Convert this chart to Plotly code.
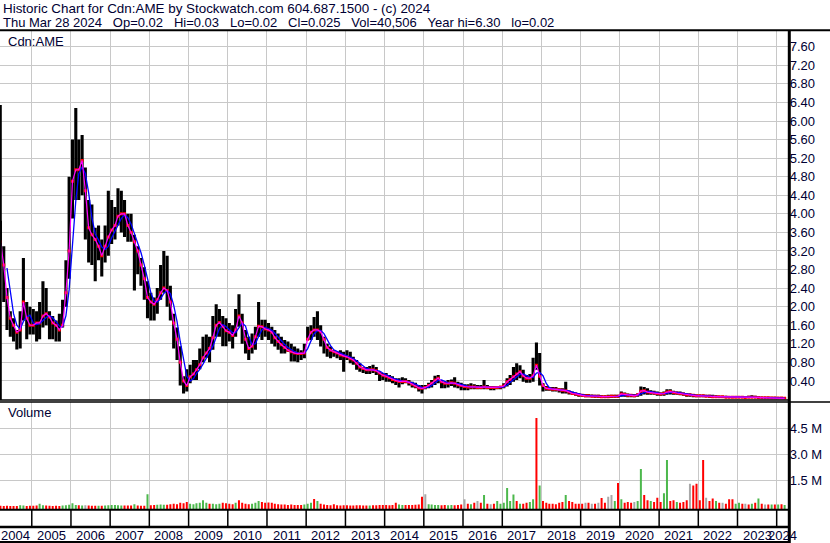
import pandas as pd
import plotly.graph_objects as go

W, H = 830, 543

# ---------------- data (monthly, Mar 2004 .. Mar 2024) ----------------
high = [
    # 2004 (Mar-Dec)
    3.85, 3.3, 2.4, 1.9, 1.75, 1.5, 1.9, 3.05, 2.1, 2.0,
    # 2005
    1.95, 1.9, 2.1, 2.55, 2.4, 1.9, 1.8, 1.7, 1.85, 2.15, 3.0, 4.8,
    # 2006
    5.6, 6.28, 5.6, 5.7, 5.0, 4.3, 4.2, 3.7, 3.75, 3.45, 3.75, 4.5,
    # 2007
    4.3, 4.15, 4.55, 4.5, 4.3, 4.0, 4.0, 3.55, 3.3, 3.05, 2.85, 2.55,
    # 2008
    2.3, 2.2, 2.4, 2.9, 3.2, 3.1, 2.45, 1.85, 1.55, 1.15, 0.5, 0.65,
    # 2009
    0.75, 0.85, 0.85, 1.1, 1.35, 1.4, 1.35, 1.8, 2.05, 1.95, 1.8, 1.75,
    # 2010
    1.65, 1.6, 1.95, 2.27, 1.85, 1.5, 1.35, 1.42, 1.57, 2.1, 1.72, 1.72,
    # 2011
    1.65, 1.57, 1.5, 1.42, 1.35, 1.28, 1.25, 1.2, 1.14, 1.1, 1.06, 1.2,
    # 2012
    1.57, 1.6, 1.78, 1.9, 1.6, 1.35, 1.2, 1.14, 1.06, 1.03, 1.06, 1.03,
    # 2013
    1.06, 1.03, 0.92, 0.85, 0.78, 0.7, 0.7, 0.72, 0.75, 0.7, 0.6, 0.57,
    # 2014
    0.57, 0.53, 0.5, 0.46, 0.46, 0.48, 0.46, 0.42, 0.38, 0.36, 0.31, 0.31,
    # 2015
    0.31, 0.36, 0.42, 0.51, 0.53, 0.42, 0.38, 0.42, 0.43, 0.48, 0.38, 0.36,
    # 2016
    0.33, 0.33, 0.35, 0.33, 0.31, 0.31, 0.42, 0.31, 0.29, 0.29, 0.29, 0.29,
    # 2017
    0.35, 0.46, 0.53, 0.7, 0.78, 0.74, 0.64, 0.53, 0.55, 0.9, 1.23, 1.0,
    # 2018
    0.35, 0.29, 0.27, 0.27, 0.27, 0.24, 0.24, 0.38, 0.19, 0.17, 0.15, 0.13,
    # 2019
    0.12, 0.12, 0.12, 0.11, 0.1, 0.1, 0.09, 0.09, 0.1, 0.1, 0.1, 0.1,
    # 2020
    0.17, 0.15, 0.13, 0.12, 0.12, 0.13, 0.28, 0.27, 0.24, 0.2, 0.19, 0.17,
    # 2021
    0.15, 0.17, 0.22, 0.22, 0.19, 0.17, 0.17, 0.15, 0.13, 0.13, 0.12, 0.11,
    # 2022
    0.11, 0.11, 0.1, 0.1, 0.1, 0.09, 0.08, 0.08, 0.08, 0.07, 0.07, 0.07,
    # 2023
    0.07, 0.07, 0.07, 0.08, 0.09, 0.08, 0.07, 0.06, 0.06, 0.06, 0.06, 0.06,
    # 2024 (Jan-Mar)
    0.05, 0.05, 0.04,
]

low = [
    3.2, 2.1, 1.5, 1.35, 1.25, 1.08, 1.1, 1.7, 1.3, 1.4,
    1.4, 1.25, 1.3, 1.55, 1.6, 1.3, 1.3, 1.25, 1.25, 1.55, 2.0, 2.6,
    3.9, 4.3, 4.3, 4.4, 3.45, 2.95, 2.9, 2.55, 3.0, 2.65, 2.95, 3.1,
    3.35, 3.45, 3.75, 3.6, 3.5, 3.4, 3.4, 2.35, 2.7, 2.45, 2.15, 1.75,
    1.7, 1.7, 1.85, 2.15, 2.3, 2.0, 1.7, 1.1, 0.85, 0.3, 0.13, 0.17,
    0.35, 0.42, 0.42, 0.65, 0.8, 0.9, 0.8, 1.07, 1.35, 1.35, 1.15, 1.15,
    1.25, 1.1, 1.35, 1.57, 1.2, 0.99, 0.85, 0.99, 1.07, 1.35, 1.28, 1.35,
    1.28, 1.2, 1.14, 1.07, 0.99, 0.99, 1.03, 0.82, 0.82, 0.8, 0.85, 0.89,
    1.28, 1.28, 1.35, 1.28, 1.14, 0.99, 0.92, 0.89, 0.92, 0.89, 0.85, 0.6,
    0.85, 0.78, 0.75, 0.64, 0.6, 0.57, 0.55, 0.55, 0.57, 0.53, 0.4, 0.42,
    0.38, 0.38, 0.35, 0.31, 0.26, 0.33, 0.35, 0.3, 0.26, 0.24, 0.17, 0.13,
    0.22, 0.24, 0.26, 0.31, 0.35, 0.24, 0.24, 0.26, 0.29, 0.26, 0.24, 0.2,
    0.2, 0.2, 0.22, 0.22, 0.22, 0.22, 0.22, 0.22, 0.2, 0.2, 0.22, 0.22,
    0.24, 0.28, 0.31, 0.38, 0.42, 0.46, 0.38, 0.36, 0.36, 0.38, 0.64, 0.3,
    0.17, 0.19, 0.19, 0.17, 0.17, 0.15, 0.13, 0.13, 0.11, 0.1, 0.08, 0.06,
    0.06, 0.05, 0.05, 0.05, 0.04, 0.04, 0.03, 0.03, 0.04, 0.04, 0.04, 0.04,
    0.06, 0.06, 0.05, 0.05, 0.05, 0.06, 0.08, 0.11, 0.1, 0.1, 0.1, 0.08,
    0.08, 0.08, 0.1, 0.11, 0.1, 0.1, 0.09, 0.08, 0.06, 0.06, 0.05, 0.05,
    0.05, 0.05, 0.05, 0.04, 0.04, 0.04, 0.04, 0.04, 0.04, 0.035, 0.035, 0.03,
    0.03, 0.03, 0.03, 0.03, 0.03, 0.03, 0.03, 0.03, 0.025, 0.025, 0.025, 0.02,
    0.02, 0.02, 0.02,
]

close = [
    3.4, 2.9, 2.2, 1.75, 1.6, 1.45, 1.5, 2.1, 1.75, 1.6,
    1.6, 1.65, 1.65, 1.8, 1.85, 1.78, 1.65, 1.6, 1.5, 1.6, 2.3, 3.2,
    4.7, 4.95, 4.95, 5.15, 4.5, 3.7, 3.55, 3.45, 3.3, 3.1, 3.3, 3.5,
    3.65, 3.75, 3.95, 4.0, 4.0, 3.75, 3.6, 3.4, 3.2, 2.9, 2.6, 2.2,
    2.1, 2.05, 2.15, 2.3, 2.4, 2.35, 2.1, 1.65, 1.3, 0.8, 0.4, 0.3,
    0.49, 0.55, 0.64, 0.75, 0.9, 1.0, 1.1, 1.33, 1.6, 1.66, 1.58, 1.48,
    1.45, 1.38, 1.5, 1.8, 1.65, 1.3, 1.1, 1.15, 1.35, 1.58, 1.57, 1.52,
    1.5, 1.45, 1.33, 1.25, 1.18, 1.12, 1.06, 1.03, 1.0, 0.99, 0.99, 1.0,
    1.3, 1.45, 1.5, 1.5, 1.46, 1.3, 1.12, 1.06, 1.03, 1.0, 0.96, 0.94,
    0.92, 0.88, 0.85, 0.78, 0.7, 0.67, 0.64, 0.64, 0.64, 0.62, 0.57, 0.52,
    0.5, 0.47, 0.43, 0.41, 0.39, 0.39, 0.39, 0.37, 0.33, 0.29, 0.25, 0.24,
    0.26, 0.3, 0.35, 0.42, 0.46, 0.38, 0.35, 0.35, 0.36, 0.35, 0.32, 0.3,
    0.28, 0.27, 0.27, 0.27, 0.26, 0.26, 0.27, 0.26, 0.26, 0.26, 0.26, 0.27,
    0.29, 0.38, 0.43, 0.49, 0.55, 0.6, 0.51, 0.46, 0.46, 0.51, 0.74, 0.5,
    0.3, 0.24, 0.23, 0.22, 0.22, 0.21, 0.2, 0.19, 0.16, 0.13, 0.12, 0.1,
    0.09, 0.08, 0.08, 0.07, 0.07, 0.07, 0.06, 0.06, 0.06, 0.07, 0.07, 0.07,
    0.12, 0.11, 0.09, 0.09, 0.08, 0.1, 0.18, 0.19, 0.16, 0.15, 0.14, 0.13,
    0.12, 0.13, 0.16, 0.17, 0.15, 0.14, 0.13, 0.12, 0.1, 0.1, 0.09, 0.08,
    0.08, 0.08, 0.07, 0.07, 0.06, 0.06, 0.06, 0.06, 0.05, 0.05, 0.05, 0.05,
    0.05, 0.05, 0.045, 0.05, 0.05, 0.05, 0.045, 0.04, 0.04, 0.04, 0.035, 0.035,
    0.03, 0.03, 0.025,
]

# monthly volume, thousands of shares
volume_k = [
    30, 20, 30, 20, 20, 20, 60, 40, 20, 30,
    30, 40, 150, 60, 40, 30, 20, 30, 20, 40, 60, 90,
    170, 80, 60, 50, 60, 40, 30, 30, 30, 30, 40, 60,
    80, 70, 60, 50, 50, 40, 40, 120, 40, 30, 30, 700,
    60, 80, 90, 100, 90, 90, 120, 150, 120, 200, 180, 250,
    150, 120, 180, 200, 350, 200, 150, 150, 120, 150, 200, 180,
    150, 120, 200, 350, 200, 150, 120, 150, 200, 300, 250, 200,
    220, 200, 150, 120, 100, 100, 80, 100, 80, 80, 70, 100,
    150, 200, 420, 300, 150, 100, 80, 60, 120, 60, 50, 60,
    60, 50, 50, 60, 60, 50, 50, 50, 60, 60, 80, 70,
    70, 60, 80, 200, 100, 80, 80, 70, 70, 90, 100, 550,
    700, 120, 100, 80, 80, 60, 70, 60, 80, 60, 70, 100,
    400, 150, 120, 200, 300, 200, 650, 150, 120, 150, 300, 150,
    200, 1060, 300, 680, 300, 150, 150, 200, 250, 400, 5100, 1200,
    300, 200, 150, 150, 120, 200, 250, 650, 300, 250, 150, 150,
    150, 200, 200, 150, 150, 200, 480, 200, 550, 650, 300, 1350,
    400, 200, 250, 200, 250, 300, 2150, 650, 350, 300, 250, 500,
    250, 750, 2670, 300, 350, 250, 200, 250, 350, 1300, 1200, 1300,
    350, 2670, 500, 300, 450, 300, 200, 200, 150, 400, 400, 150,
    200, 150, 150, 100, 150, 200, 450, 150, 100, 100, 100, 100,
    100, 120, 80,
]

# u = up (green), d = down (red), n = unchanged (grey)
volume_dir = (
    "dddddduudd"
    "dduuddddduuu"
    "uudunddduduu"
    "uuuudddudddu"
    "dduuuddddddd"
    "uuuuuuduuudd"
    "ddudddduuudd"
    "dddddddddddu"
    "uududddddddd"
    "dddddddudddd"
    "dddduudddddd"
    "nuuuudduuddd"
    "ndudndudnduu"
    "uuuududduudu"
    "dddddddudddd"
    "dndndnddnnud"
    "udddnuuddudd"
    "duuddudddndd"
    "ddnddudndddu"
    "udndududndud"
    "udu"
)

years = list(range(2004, 2025))
price_ticks = [0.40, 0.80, 1.20, 1.60, 2.00, 2.40, 2.80, 3.20, 3.60, 4.00,
               4.40, 4.80, 5.20, 5.60, 6.00, 6.40, 6.80, 7.20, 7.60]
vol_ticks = [1.5e6, 3.0e6, 4.5e6]
vol_tick_text = ["1.5 M", "3.0 M", "4.5 M"]

header1 = "Historic Chart for Cdn:AME by Stockwatch.com 604.687.1500 - (c) 2024"
header2_parts = ["Thu Mar 28 2024", "Op=0.02", "Hi=0.03", "Lo=0.02", "Cl=0.025",
                 "Vol=40,506", "Year hi=6.30", "lo=0.02"]
symbol_label = "Cdn:AME"
volume_label = "Volume"

# ---------------- build ----------------
n = len(close)
assert len(high) == n and len(low) == n and len(volume_k) == n and len(volume_dir) == n

dates = pd.date_range("2004-03-01", periods=n, freq="MS") + pd.Timedelta(days=14)
ma_long = pd.Series(close).rolling(3).mean()

X0 = pd.Timestamp("2004-03-11")
X1 = pd.Timestamp("2024-04-22")

def py(y_px):
    return 1 - y_px / H

def pxf(x_px):
    return x_px / W

FONT = "Liberation Sans, Arial, sans-serif"
TXT = "#000033"
GRID = "#c8c8c8"
NB = "\u00a0"

fig = go.Figure()

# high-low bars
bx, by = [], []
for d, h, l in zip(dates, high, low):
    bx += [d, d, None]
    by += [l, h, None]
fig.add_trace(go.Scatter(x=bx, y=by, mode="lines", line=dict(color="black", width=3.1),
                         xaxis="x", yaxis="y", hoverinfo="skip"))
fig.add_trace(go.Scatter(x=dates, y=close, mode="markers",
                         marker=dict(symbol="square", size=3, color="#ff0000"),
                         xaxis="x", yaxis="y", hoverinfo="skip"))
fig.add_trace(go.Scatter(x=dates, y=ma_long, mode="lines",
                         line=dict(color="#0000ff", width=1.3), xaxis="x", yaxis="y"))
fig.add_trace(go.Scatter(x=dates, y=close, mode="lines",
                         line=dict(color="#ff00ff", width=1.2), xaxis="x", yaxis="y"))

# volume bars
V_BOTTOM = -0.156e6
V_TOP = 6.035e6
colors = {"u": "#4cb84c", "d": "#ff0000", "n": "#a8a8a8"}
for key, col in colors.items():
    vx, vy = [], []
    for d, v, c in zip(dates, volume_k, volume_dir):
        if c == key:
            vx += [d, d, None]
            vy += [V_BOTTOM, v * 1000, None]
    fig.add_trace(go.Scatter(x=vx, y=vy, mode="lines", line=dict(color=col, width=2),
                             xaxis="x2", yaxis="y2", hoverinfo="skip"))

XR = pxf(788.7)
common_x = dict(type="date", range=[X0, X1], domain=[0, XR], showgrid=True,
                gridcolor=GRID, gridwidth=1, tick0="2005-01-01", dtick="M12",
                showticklabels=False, zeroline=False, showline=False, ticks="")

fig.update_layout(
    width=W, height=H,
    margin=dict(l=0, r=0, t=0, b=0, pad=0),
    paper_bgcolor="white", plot_bgcolor="white",
    showlegend=False, hovermode=False,
    xaxis=dict(**common_x, anchor="y"),
    xaxis2=dict(**common_x, anchor="y2", matches="x"),
    yaxis=dict(domain=[py(399.5), py(31)], range=[0, 7.94], side="right", anchor="x",
               tickvals=price_ticks, ticktext=[f"{t:.2f}" for t in price_ticks],
               showgrid=True, gridcolor=GRID, gridwidth=1, zeroline=False,
               ticks="", tickfont=dict(family=FONT, size=13, color=TXT)),
    yaxis2=dict(domain=[py(509), py(401.7)], range=[V_BOTTOM, V_TOP], side="right",
                anchor="x2", tickvals=vol_ticks, ticktext=vol_tick_text,
                showgrid=True, gridcolor=GRID, gridwidth=1, zeroline=False,
                ticks="", tickfont=dict(family=FONT, size=13, color=TXT)),
)

shapes = []
def hline(y, x0, x1, w):
    shapes.append(dict(type="line", xref="paper", yref="paper", x0=pxf(x0), x1=pxf(x1),
                       y0=py(y), y1=py(y), line=dict(color="black", width=w)))
def vline(x, y0, y1, w):
    shapes.append(dict(type="line", xref="paper", yref="paper", x0=pxf(x), x1=pxf(x),
                       y0=py(y0), y1=py(y1), line=dict(color="black", width=w)))

hline(30.3, 0, W, 2)
hline(400.0, 0, 789, 1.5)
hline(402.0, 0, W, 1.5)
hline(509.8, 0, 789, 2)
hline(527.0, 0, 789, 2.5)
hline(542.0, 0, 789, 2)
vline(789.3, 30, H, 3)
vline(0.8, 105, 400, 2)

for yv in years[1:]:
    d = pd.Timestamp(f"{yv}-01-01")
    shapes.append(dict(type="line", xref="x", yref="paper", x0=d, x1=d,
                       y0=py(510), y1=py(527), line=dict(color="black", width=1.5)))

annotations = []
def text(x, y, s, xref="paper", xanchor="left", size=13):
    annotations.append(dict(x=x, y=y, xref=xref, yref="paper", text=s, showarrow=False,
                            xanchor=xanchor, yanchor="middle",
                            font=dict(family=FONT, size=size, color=TXT)))

text(pxf(1), py(9), header1, size=13.4)
text(pxf(1), py(22), (NB * 3).join(header2_parts))
text(pxf(6), py(41), symbol_label)
text(pxf(6), py(413), volume_label)

for yv in years:
    s = max(X0, pd.Timestamp(f"{yv}-01-01"))
    e = min(X1, pd.Timestamp(f"{yv + 1}-01-01"))
    text(s + (e - s) / 2, py(535), str(yv), xref="x", xanchor="center")

fig.update_layout(shapes=shapes, annotations=annotations)
fig.write_html(
    "out.html",
    config={"displayModeBar": False, "staticPlot": True},
    post_script="document.body.style.margin='0';document.body.style.overflow='hidden';",
)
